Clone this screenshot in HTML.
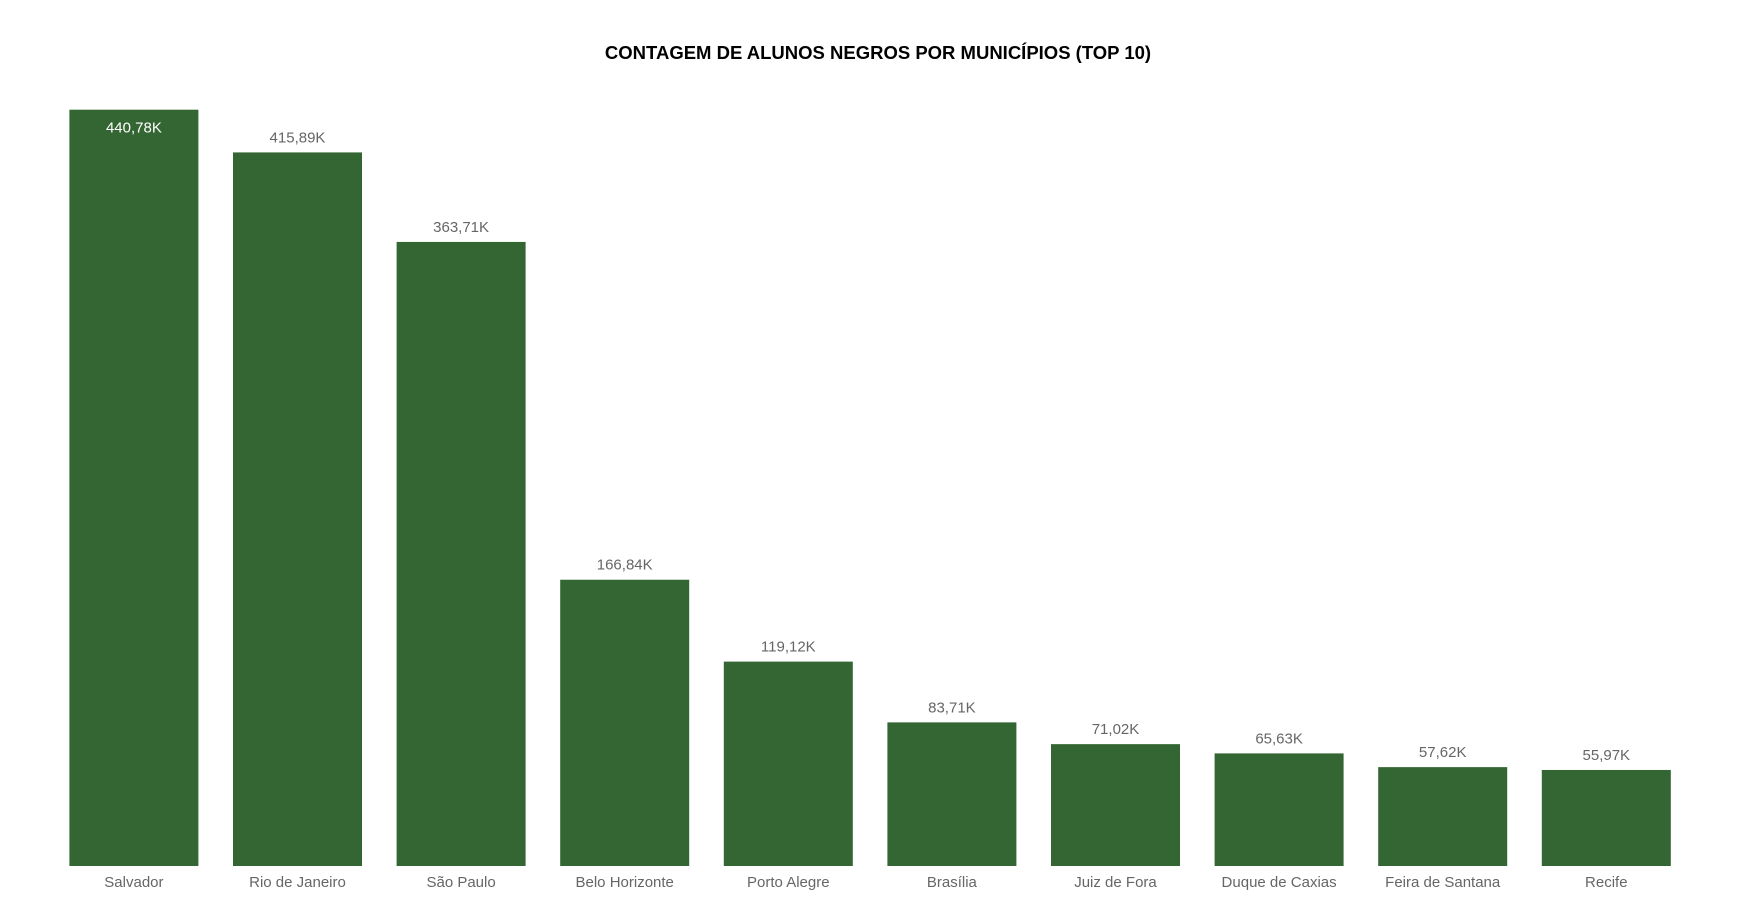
<!DOCTYPE html>
<html><head><meta charset="utf-8"><style>
body{margin:0;background:#fff;width:1746px;height:903px;overflow:hidden;font-family:"Liberation Sans",sans-serif}
</style></head><body>
<svg width="1746" height="903">
<text x="878" y="59" text-anchor="middle" font-size="18.5" font-weight="bold" fill="#000">CONTAGEM DE ALUNOS NEGROS POR MUNICÍPIOS (TOP 10)</text>
<g id="bars"></g>
</svg>
<script>
const categories=["Salvador","Rio de Janeiro","São Paulo","Belo Horizonte","Porto Alegre","Brasília","Juiz de Fora","Duque de Caxias","Feira de Santana","Recife"];
const values=[440.78,415.89,363.71,166.84,119.12,83.71,71.02,65.63,57.62,55.97];
const valueLabels=["440,78K","415,89K","363,71K","166,84K","119,12K","83,71K","71,02K","65,63K","57,62K","55,97K"];
const baseY=866, plotTop=109.7, x0=69.4, step=163.6, bw=129;
const maxV=Math.max(...values);
function y(v){return baseY-(v/maxV)*(baseY-plotTop);}
function x(i){return x0+i*step;}
const g=document.getElementById('bars');
const NS='http://www.w3.org/2000/svg';
values.forEach((v,i)=>{
  const r=document.createElementNS(NS,'rect');
  r.setAttribute('x',x(i));r.setAttribute('y',y(v));r.setAttribute('width',bw);r.setAttribute('height',baseY-y(v));r.setAttribute('fill','#336633');
  
  
  g.appendChild(r);
  const inside=(y(v)-plotTop)<20;
  const t=document.createElementNS(NS,'text');
  t.setAttribute('x',x(i)+bw/2);t.setAttribute('y',inside?y(v)+23:y(v)-10);
  t.setAttribute('text-anchor','middle');t.setAttribute('font-size','15');t.setAttribute('fill',inside?'#fff':'#666');
  t.textContent=valueLabels[i];
  
  
  g.appendChild(t);
  const c=document.createElementNS(NS,'text');
  c.setAttribute('x',x(i)+bw/2);c.setAttribute('y',887);
  c.setAttribute('text-anchor','middle');c.setAttribute('font-size','15');c.setAttribute('fill','#666');
  c.textContent=categories[i];
  
  
  g.appendChild(c);
});
</script>
</body></html>
